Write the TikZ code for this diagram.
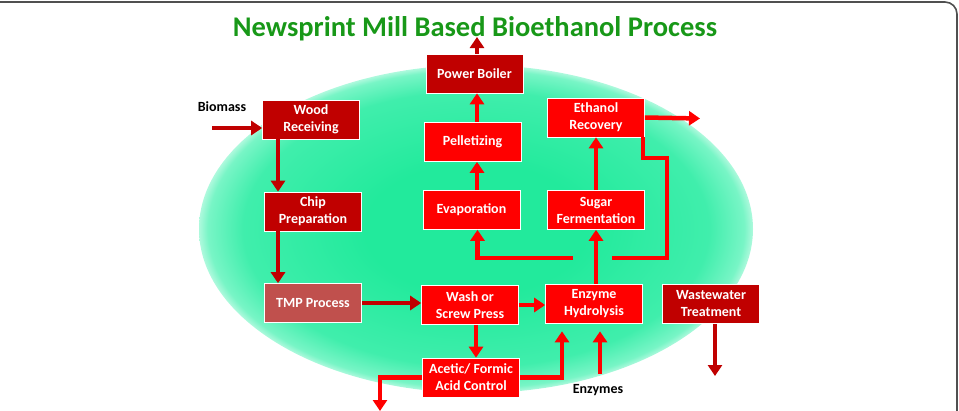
\documentclass[tikz,border=0pt]{standalone}
\usepackage{fontspec}
\setmainfont{Carlito}
\usetikzlibrary{arrows.meta, positioning, calc}
\definecolor{darkred}{RGB}{192,0,0}
\definecolor{brightred}{RGB}{255,0,0}
\definecolor{tmpred}{RGB}{192,80,77}
\definecolor{titlegreen}{RGB}{24,152,24}
\definecolor{glowin}{RGB}{34,234,156}
\definecolor{glowmid}{RGB}{64,238,172}
\definecolor{glowout}{RGB}{120,245,198}
\definecolor{framegray}{RGB}{80,80,80}
\pgfdeclareradialshading{glow}{\pgfpoint{0bp}{0bp}}{color(0bp)=(glowin); color(10bp)=(glowin); color(21bp)=(glowmid); color(24.2bp)=(glowout); color(25bp)=(white!40!glowout); color(50bp)=(white)}

\begin{document}
\begin{tikzpicture}[x=1pt, y=-1pt,
    box/.style={draw=white, line width=0.6pt, text=white, align=center,
        font=\bfseries\fontsize{14}{17}\selectfont,
        minimum width=97pt, minimum height=39pt, inner sep=1pt},
    lbl/.style={font=\bfseries\fontsize{14}{17}\selectfont, text=black},
    arr/.style={line width=4.5pt, -{Triangle[length=11pt,width=14pt]}},
    darr/.style={arr, draw=darkred},
    rarr/.style={arr, draw=brightred},
    rline/.style={line width=4.5pt, draw=brightred}
    ]
        \useasboundingbox (0,0) rectangle (959,410);
        \shade[shading=glow] (476,229) ellipse [x radius=277, y radius=164];
        \draw[framegray, line width=1.6pt, rounded corners=12pt] (-5,2) -- (957,2) -- (957,415);
        \node[font=\bfseries\fontsize{28.5}{34}\selectfont, text=titlegreen, anchor=base] (title) at (475,36) {Newsprint Mill Based Bioethanol Process};

        \node[box, fill=darkred] (boiler) at (474.5,73.5) {Power Boiler};
        \node[box, fill=darkred] (wood) at (311,119.5) {Wood\\Receiving};
        \node[box, fill=darkred] (chip) at (313,211.5) {Chip\\Preparation};
        \node[box, fill=tmpred] (tmp) at (313,303) {TMP Process};
        \node[box, fill=brightred] (wash) at (470,305) {Wash or\\Screw Press};
        \node[box, fill=brightred] (enz) at (594,303.5) {Enzyme\\Hydrolysis};
        \node[box, fill=darkred] (waste) at (711,304) {Wastewater\\Treatment};
        \node[box, fill=brightred] (acid) at (471,377.5) {Acetic/ Formic\\Acid Control};
        \node[box, fill=brightred] (sugar) at (596,210) {Sugar\\Fermentation};
        \node[box, fill=brightred] (evap) at (471.5,210) {Evaporation};
        \node[box, fill=brightred] (pellet) at (472.5,142) {Pelletizing};
        \node[box, fill=brightred] (etoh) at (596,117.5) {Ethanol\\Recovery};
        \node[lbl] (biolbl) at (222,107) {Biomass};
        \node[lbl] (enzlbl) at (598,390) {Enzymes};

        \coordinate (bioin) at (212,128);
        \coordinate (boilout) at (477,37);
        \coordinate (etohout) at (700,118.5);
        \coordinate (acidout) at (380,411);
        \coordinate (wasteout) at (715,376);
        \coordinate (splitl) at (573,258);
        \coordinate (splitr) at (612,258);
        \coordinate (loopr) at (667,158);

        \draw[darr] (bioin) -- (bioin -| wood.west);
        \draw[darr] ([xshift=-33pt]wood.south) -- ([xshift=-35pt]chip.north);
        \draw[darr] ([xshift=-35pt]chip.south) -- ([xshift=-35pt]tmp.north);
        \draw[darr] (tmp.east) -- (tmp.east -| wash.west);
        \draw[rarr] (wash.east) -- (wash.east -| enz.west);
        \draw[rarr] ([xshift=6pt]wash.south) -- ([xshift=5pt]acid.north);
        \draw[rarr] (acid.west) -| (acidout);
        \draw[rarr] (acid.east) -| ([xshift=-32pt,yshift=-8pt]enz.south);
        \draw[rarr] ([xshift=2pt,yshift=7pt]enzlbl.north) -- ([xshift=6pt,yshift=-8pt]enz.south);
        \draw[rarr] (enz.north -| sugar.south) -- (sugar.south);
        \draw[rarr] (splitl) -| ([xshift=6pt]evap.south);
        \draw[rline] (splitr) -| (loopr) -| ([xshift=47pt]etoh.south);
        \draw[rarr] (sugar.north) -- (etoh.south);
        \draw[rarr] (etoh.east) -- (etohout);
        \draw[rarr] ([xshift=5.5pt]evap.north) -- ([xshift=4.5pt]pellet.south);
        \draw[rarr] ([xshift=4.5pt]pellet.north) -- ([xshift=2.5pt]boiler.south);
        \draw[darr] ([xshift=2.5pt]boiler.north) -- (boilout);
        \draw[darr] ([xshift=4pt]waste.south) -- (wasteout);
\end{tikzpicture}
\end{document}
